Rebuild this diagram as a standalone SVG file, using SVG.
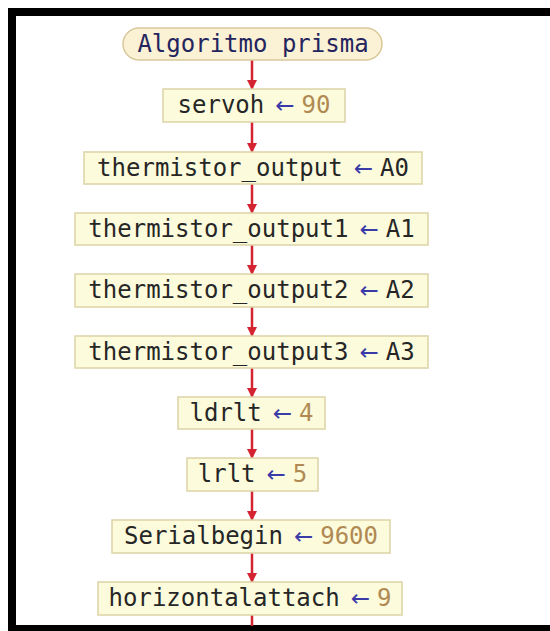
<svg xmlns="http://www.w3.org/2000/svg" width="550" height="631" viewBox="0 0 550 631">
  <style>
    .box { fill: #fcfbdc; stroke: #dcd3a6; stroke-width: 1.5; }
    .term { fill: #fbf1d4; stroke: #d8c89a; stroke-width: 1.5; }
    text { font-family: "DejaVu Sans Mono", "Liberation Mono", monospace; font-size: 24px; text-anchor: middle; }
    .var { fill: #262626; }
    .op { fill: #3a3aa8; font-family: "DejaVu Sans", sans-serif; font-size: 23px; }
    .num { fill: #b08a52; }
    .title { fill: #24245e; }
    .flow { stroke: #d42431; stroke-width: 2.5; fill: none; marker-end: url(#head); }
  </style>
  <defs>
    <marker id="head" viewBox="0 0 10 10" refX="9" refY="5" markerWidth="4" markerHeight="4" orient="auto" markerUnits="strokeWidth">
      <path d="M0,0 L10,5 L0,10 Z" fill="#d42431"/>
    </marker>
  </defs>
  <rect width="550" height="631" fill="#ffffff"/>
  <!-- frame -->
  <path d="M12,635 V12 H560" fill="none" stroke="#000" stroke-width="8"/>
  <rect x="8" y="625" width="550" height="10" fill="#000"/>

  <g id="connectors">
    <line class="flow" x1="252" y1="60" x2="252" y2="89"/>
    <line class="flow" x1="252" y1="122" x2="252" y2="152"/>
    <line class="flow" x1="252" y1="184" x2="252" y2="213"/>
    <line class="flow" x1="252" y1="245" x2="252" y2="274"/>
    <line class="flow" x1="252" y1="307" x2="252" y2="336"/>
    <line class="flow" x1="252" y1="368" x2="252" y2="397"/>
    <line class="flow" x1="252" y1="429" x2="252" y2="458"/>
    <line class="flow" x1="252" y1="491" x2="252" y2="520"/>
    <line class="flow" x1="252" y1="553" x2="252" y2="582"/>
    <line x1="252" y1="615" x2="252" y2="626" stroke="#d42431" stroke-width="2.5"/>
  </g>

  <g id="start">
    <rect class="term" x="123" y="28" width="259" height="32" rx="16"/>
    <text class="title" x="253" y="52">Algoritmo prisma</text>
  </g>
  <g id="servoh">
    <rect class="box" x="163" y="89" width="182" height="33"/>
    <text x="254" y="113"><tspan class="var">servoh</tspan><tspan class="op" dx="11">←</tspan><tspan class="num" dx="7">90</tspan></text>
  </g>
  <g id="thermistor_output">
    <rect class="box" x="84" y="152" width="338" height="32"/>
    <text x="253" y="176"><tspan class="var">thermistor_output</tspan><tspan class="op" dx="11">←</tspan><tspan class="var" dx="7">A0</tspan></text>
  </g>
  <g id="thermistor_output1">
    <rect class="box" x="75" y="213" width="353" height="32"/>
    <text x="251.5" y="237"><tspan class="var">thermistor_output1</tspan><tspan class="op" dx="11">←</tspan><tspan class="var" dx="7">A1</tspan></text>
  </g>
  <g id="thermistor_output2">
    <rect class="box" x="75" y="274" width="353" height="33"/>
    <text x="251.5" y="298"><tspan class="var">thermistor_output2</tspan><tspan class="op" dx="11">←</tspan><tspan class="var" dx="7">A2</tspan></text>
  </g>
  <g id="thermistor_output3">
    <rect class="box" x="75" y="336" width="353" height="32"/>
    <text x="251.5" y="360"><tspan class="var">thermistor_output3</tspan><tspan class="op" dx="11">←</tspan><tspan class="var" dx="7">A3</tspan></text>
  </g>
  <g id="ldrlt">
    <rect class="box" x="178" y="397" width="147" height="32"/>
    <text x="251.5" y="421"><tspan class="var">ldrlt</tspan><tspan class="op" dx="11">←</tspan><tspan class="num" dx="7">4</tspan></text>
  </g>
  <g id="lrlt">
    <rect class="box" x="187" y="458" width="131" height="33"/>
    <text x="252.5" y="482"><tspan class="var">lrlt</tspan><tspan class="op" dx="11">←</tspan><tspan class="num" dx="7">5</tspan></text>
  </g>
  <g id="serialbegin">
    <rect class="box" x="112" y="520" width="278" height="33"/>
    <text x="251" y="544"><tspan class="var">Serialbegin</tspan><tspan class="op" dx="11">←</tspan><tspan class="num" dx="7">9600</tspan></text>
  </g>
  <g id="horizontalattach">
    <rect class="box" x="98" y="582" width="304" height="33"/>
    <text x="250" y="606"><tspan class="var">horizontalattach</tspan><tspan class="op" dx="11">←</tspan><tspan class="num" dx="7">9</tspan></text>
  </g>
</svg>
